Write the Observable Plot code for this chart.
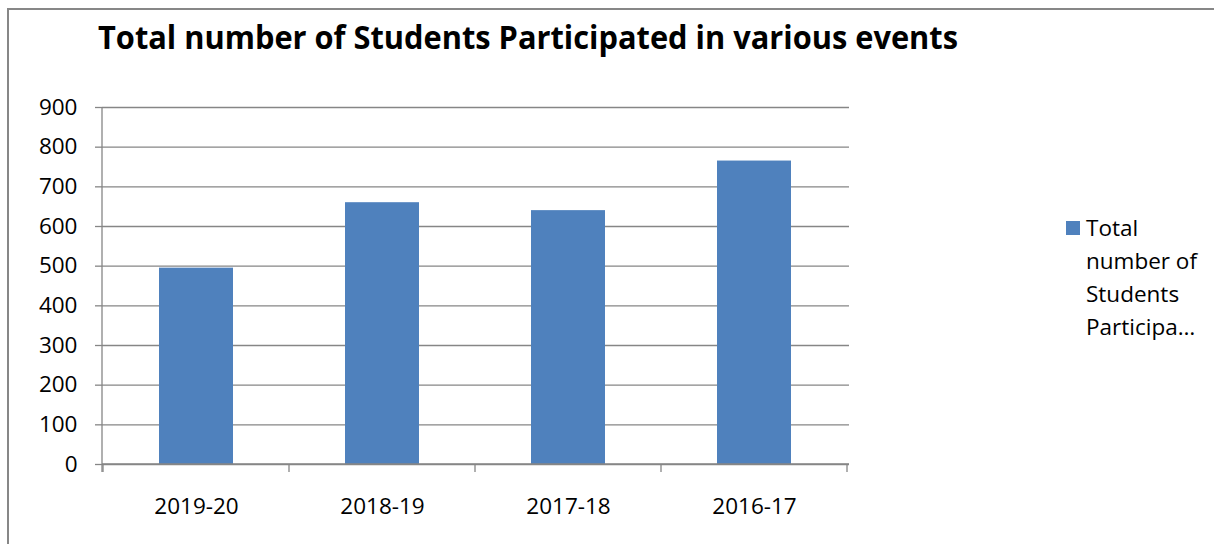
<!DOCTYPE html>
<html>
<head>
<meta charset="utf-8">
<script src="https://cdn.jsdelivr.net/npm/d3@7"></script>
<script src="https://cdn.jsdelivr.net/npm/@observablehq/plot@0.6"></script>
<style>
html, body { margin: 0; padding: 0; background: #fff; overflow: hidden; width: 1214px; height: 544px; }
#wrap { position: relative; width: 1214px; height: 544px; overflow: hidden; font-family: "Open Sans", sans-serif; color: #000; }
#frameTop { position: absolute; left: 7px; top: 8px; width: 1207px; height: 2px; background: #878787; }
#frameLeft { position: absolute; left: 7px; top: 8px; width: 2px; height: 536px; background: #878787; }
#title { position: absolute; left: 98px; top: 21px; font-size: 32px; line-height: 32px; font-weight: 700; white-space: nowrap; transform-origin: 0 0; }
#chart { position: absolute; left: 0; top: 0; width: 1214px; height: 544px; }
#chart svg { display: block; }
#legend { position: absolute; left: 1066px; top: 211px; }
#legend .sw { position: absolute; left: 0; top: 10px; width: 14px; height: 14px; }
#legend .lbl { position: absolute; left: 20px; top: 0; font-size: 22.5px; line-height: 33px; white-space: nowrap; }
</style>
</head>
<body>
<div id="wrap">
  <div id="frameTop"></div>
  <div id="frameLeft"></div>
  <div id="chart"></div>
  <div id="title"></div>
  <div id="legend"><div class="sw"></div><div class="lbl"></div></div>
</div>
<script>
// ---- data ----
const titleText = "Total number of Students Participated in various events";
const categories = ["2019-20", "2018-19", "2017-18", "2016-17"];
const values = [495, 660, 640, 765];
const yTicks = [0, 100, 200, 300, 400, 500, 600, 700, 800, 900];
const legendLines = ["Total", "number of", "Students", "Participa…"];
const barColor = "#4F81BD";
const gridColor = "#868686";

const data = categories.map((c, i) => ({year: c, value: values[i]}));

// category boundary ticks + axis lines, drawn through the scales
function axisLines(index, scales, vals, dims) {
  const x = scales.x, y = scales.y;
  const step = x.step(), bw = x.bandwidth();
  const g = d3.create("svg:g").attr("stroke", gridColor).attr("stroke-width", 1.3).attr("fill", "none");
  const y0 = y(0), yTop = y(yTicks[yTicks.length - 1]);
  const left = dims.marginLeft, right = dims.width - dims.marginRight;
  const bounds = categories.map(c => x(c) - (step - bw) / 2);
  bounds.push(x(categories[categories.length - 1]) + bw + (step - bw) / 2);
  g.append("line").attr("x1", left).attr("x2", left).attr("y1", yTop).attr("y2", y0 + 8);
  g.append("line").attr("x1", left).attr("x2", right).attr("y1", y0).attr("y2", y0);
  for (const b of bounds) {
    g.append("line").attr("x1", b).attr("x2", b).attr("y1", y0).attr("y2", y0 + 8);
  }
  return g.node();
}

const chart = Plot.plot({
  width: 1214,
  height: 544,
  marginLeft: 102,
  marginRight: 365,
  marginTop: 107,
  marginBottom: 80,
  style: {background: "transparent", fontFamily: "'Open Sans', sans-serif", fontSize: "22.5px", color: "#000"},
  x: {domain: categories, paddingInner: 0.6, paddingOuter: 0.3, label: null},
  y: {domain: [0, 900], label: null},
  marks: [
    Plot.ruleY(yTicks, {stroke: gridColor, strokeWidth: 1.3}),
    Plot.barY(data, {x: "year", y: "value", fill: barColor}),
    Plot.axisY({ticks: yTicks, tickSize: 7, tickPadding: 18, stroke: gridColor, strokeWidth: 1.3, fill: "#000", label: null, tickFormat: d => String(d)}),
    Plot.axisX({tickSize: 0, tickPadding: 34, fill: "#000", label: null}),
    axisLines
  ]
});
document.getElementById("chart").appendChild(chart);

// title
const t = document.getElementById("title");
t.textContent = titleText;
const w = t.getBoundingClientRect().width;
t.style.transform = `scaleX(${860 / w})`;

// legend
document.querySelector("#legend .sw").style.background = barColor;
document.querySelector("#legend .lbl").innerHTML = legendLines.map(s => s.replace(/&/g, "&amp;")).join("<br>");
</script>
</body>
</html>
